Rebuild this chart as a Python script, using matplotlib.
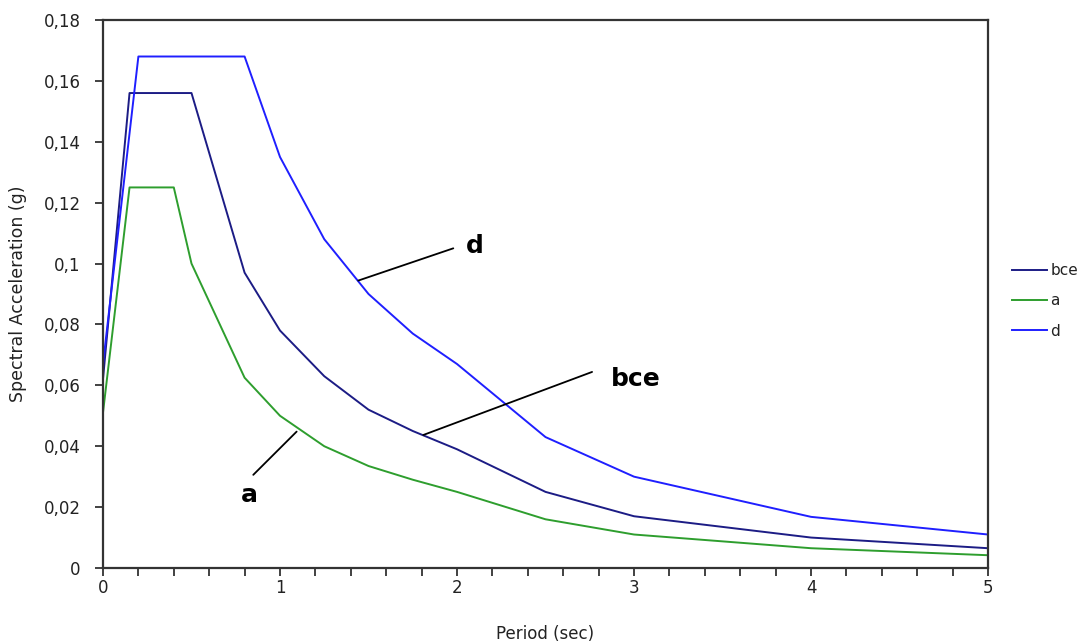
import matplotlib
matplotlib.use("Agg")
import matplotlib.pyplot as plt
from matplotlib.ticker import MultipleLocator, FuncFormatter

plt.rcParams['font.family'] = ['DejaVu Sans']

# spectra (period in sec, acceleration in g)
period_bce = [0, 0.15, 0.5, 0.8, 1.0, 1.25, 1.5, 1.75, 2.0, 2.5, 3.0, 4.0, 5.0]
accel_bce = [0.062, 0.156, 0.156, 0.097, 0.078, 0.063, 0.052, 0.045, 0.039, 0.025, 0.017, 0.010, 0.0065]

period_a = [0, 0.15, 0.4, 0.5, 0.8, 1.0, 1.25, 1.5, 1.75, 2.0, 2.5, 3.0, 4.0, 5.0]
accel_a = [0.051, 0.125, 0.125, 0.100, 0.0625, 0.050, 0.040, 0.0335, 0.029, 0.025, 0.016, 0.011, 0.0065, 0.0042]

period_d = [0, 0.2, 0.8, 1.0, 1.25, 1.5, 1.75, 2.0, 2.5, 3.0, 4.0, 5.0]
accel_d = [0.067, 0.168, 0.168, 0.135, 0.108, 0.090, 0.077, 0.067, 0.043, 0.030, 0.0168, 0.011]

# label callouts: (text, point on curve, end of leader, text position)
callouts = [
    ("d", (1.442, 0.0944), (1.979, 0.1050), (2.10, 0.1058)),
    ("bce", (1.810, 0.0437), (2.763, 0.0644), (3.01, 0.0622)),
    ("a", (1.094, 0.0448), (0.849, 0.0306), (0.825, 0.0240)),
]

fig = plt.figure(figsize=(10.84, 6.44), dpi=100)
ax = fig.add_axes([0.095, 0.118, 0.8165, 0.851])

ax.plot(period_bce, accel_bce, color='#1c1c85', lw=1.4, label='bce')
ax.plot(period_a, accel_a, color='#2e9e2e', lw=1.4, label='a')
ax.plot(period_d, accel_d, color='#1f1fff', lw=1.4, label='d')

for txt, pt, end, pos in callouts:
    ax.annotate('', xy=pt, xytext=end,
                arrowprops=dict(arrowstyle='-', color='black', lw=1.3,
                                shrinkA=0, shrinkB=0))
    ax.text(pos[0], pos[1], txt, fontsize=18, fontweight='bold',
            ha='center', va='center')

ax.set_xlim(0, 5)
ax.set_ylim(0, 0.18)
ax.xaxis.set_major_locator(MultipleLocator(1))
ax.xaxis.set_minor_locator(MultipleLocator(0.2))
ax.yaxis.set_major_locator(MultipleLocator(0.02))
ax.yaxis.set_major_formatter(FuncFormatter(lambda v, p: ('%g' % round(v, 3)).replace('.', ',')))
ax.tick_params(axis='both', which='both', direction='out', length=6, width=1.3,
               labelsize=12, color='#333333', labelcolor='#222222')
ax.tick_params(axis='x', pad=2)
ax.tick_params(axis='y', pad=10)
for s in ax.spines.values():
    s.set_linewidth(1.6)
    s.set_color('#333333')

ax.set_xlabel('Period (sec)', fontsize=12, labelpad=20, color='#222222')
ax.set_ylabel('Spectral Acceleration (g)', fontsize=12.5, labelpad=12, color='#222222')

fig.legend(loc='center left', bbox_to_anchor=(0.921, 0.533), frameon=False,
           fontsize=11, handlelength=2.3, handletextpad=0.2, labelspacing=1.0,
           labelcolor='#222222')

fig.savefig('out.png', dpi=100)
